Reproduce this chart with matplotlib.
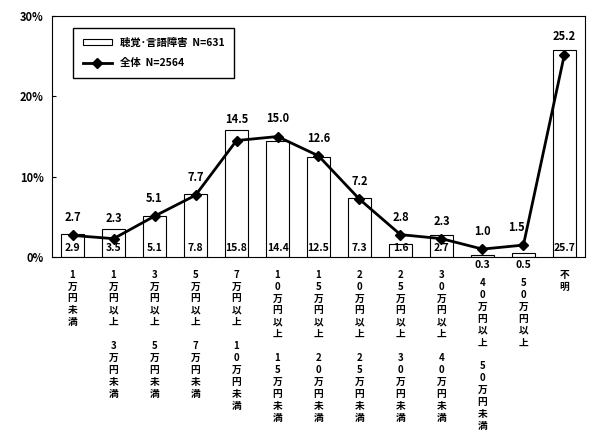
import matplotlib
matplotlib.use("Agg")
import matplotlib.pyplot as plt
import numpy as np

plt.rcParams['font.family'] = ['Noto Sans CJK JP', 'DejaVu Sans']

# income brackets (stacked vertically, one char per line)
categories = [
    "1万円未満",
    "1万円以上|3万円未満",
    "3万円以上|5万円未満",
    "5万円以上|7万円未満",
    "7万円以上|10万円未満",
    "10万円以上|15万円未満",
    "15万円以上|20万円未満",
    "20万円以上|25万円未満",
    "25万円以上|30万円未満",
    "30万円以上|40万円未満",
    "40万円以上|50万円未満",
    "50万円以上",
    "不明",
]
hearing = [2.9, 3.5, 5.1, 7.8, 15.8, 14.4, 12.5, 7.3, 1.6, 2.7, 0.3, 0.5, 25.7]
overall = [2.7, 2.3, 5.1, 7.7, 14.5, 15.0, 12.6, 7.2, 2.8, 2.3, 1.0, 1.5, 25.2]
yticks = [0, 10, 20, 30]


def vertical(label):
    parts = label.split("|")
    return "\n\n".join("\n".join(p) for p in parts)


fig = plt.figure(figsize=(5.92, 4.30), dpi=100)
ax = fig.add_axes([0.088, 0.402, 0.900, 0.561])

x = np.arange(len(categories))
bars = ax.bar(x, hearing, width=0.56, facecolor="white", edgecolor="black",
              linewidth=0.8, zorder=2)
line, = ax.plot(x, overall, color="black", lw=2, marker="D", ms=5, zorder=3)

# bar values sit inside the bar foot; tiny bars get them below the axis
for xi, v in zip(x, hearing):
    if v < 1:
        ax.text(xi, -0.35, f"{v:.1f}", ha="center", va="top", fontsize=7.5,
                fontweight="bold")
    else:
        ax.text(xi, 0.5, f"{v:.1f}", ha="center", va="bottom", fontsize=7.5,
                fontweight="bold")

# line values above the markers (or above the bar when it is taller)
for i, (xi, v, hv) in enumerate(zip(x, overall, hearing)):
    if hv - v > 0.8:
        base, dy = hv, 3
    else:
        base, dy = v, 8
    dx = -5 if i == 11 else 0
    ax.annotate(f"{v:.1f}", (xi, base), xytext=(dx, dy), textcoords="offset points",
                ha="center", va="bottom", fontsize=8, fontweight="bold")

# category labels drawn as vertical stacks under each bar
xtrans = ax.get_xaxis_transform()
for i, (xi, c) in enumerate(zip(x, categories)):
    pad = 15 if hearing[i] < 1 else 9
    ax.annotate(vertical(c), (xi, 0), xycoords=xtrans, xytext=(0, -pad),
                textcoords="offset points", ha="center", va="top",
                fontsize=7, fontweight="bold", linespacing=1.24,
                annotation_clip=False)

ax.set_xlim(-0.5, len(categories) - 0.5)
ax.set_ylim(0, 30)
ax.set_yticks(yticks)
ax.set_yticklabels([f"{t}%" for t in yticks], fontsize=8, fontweight="bold")
ax.set_xticks([])
ax.tick_params(axis="y", direction="in", length=3, pad=6)
for s in ax.spines.values():
    s.set_linewidth(0.8)

leg = ax.legend([bars, line], ["聴覚･言語障害  N=631", "全体  N=2564"],
                loc="upper left", bbox_to_anchor=(0.03, 0.97),
                prop={"weight": "bold", "size": 7.5}, fancybox=False,
                edgecolor="black", framealpha=1, handlelength=2.8,
                handleheight=0.5, borderpad=0.9, labelspacing=1.0)
leg.get_frame().set_linewidth(1.0)

fig.savefig("out.png", dpi=100)
